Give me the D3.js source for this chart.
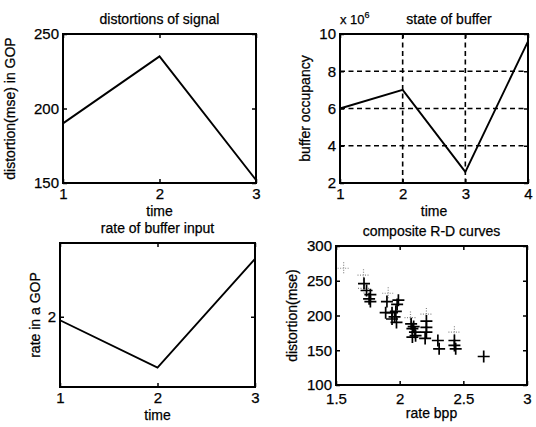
<!DOCTYPE html>
<html>
<head>
<meta charset="utf-8">
<script src="https://cdn.jsdelivr.net/npm/d3@7"></script>
<style>
  body { margin: 0; background: #fff; }
  text { font-family: "Liberation Sans", Arial, sans-serif; fill: #000; stroke: #000; stroke-width: 0.25px; }
</style>
</head>
<body>
<div id="chart"></div>
<script>
// data
const timeA = [1, 2, 3];
const distortion = [190, 235, 152];

const timeB = [1, 2, 3, 4];
const bufferState = [6.0, 7.0, 2.6, 9.6];   // x 10^6

const rateInput = [1.98, 1.71, 2.33];

// composite R-D curves: rate bpp / distortion (mse)
const rdRate = [1.72, 1.74, 1.77, 1.76, 1.77,
    1.90, 1.89, 1.94, 1.96, 1.97, 1.98, 1.99, 1.975, 1.94,
    2.09, 2.10, 2.11, 2.12, 2.10, 2.125, 2.21, 2.21, 2.21, 2.20,
    2.30, 2.31, 2.43, 2.43, 2.44, 2.66];
const rdDist = [246, 236, 230, 224, 220,
    220, 204, 204, 198, 206, 216, 222, 190, 195,
    188, 181, 184, 176, 169, 171, 192, 183, 176, 167,
    164, 152, 164, 157, 152, 141];
// faint (dotted) crosses
const rdRateFaint = [1.56, 1.716, 1.72, 1.91, 2.085, 2.21, 2.43];
const rdDistFaint = [268, 258, 239, 232, 197, 202, 176];

const W = 536, H = 427;
const svg = d3.select("#chart").append("svg")
    .attr("width", W).attr("height", H);
svg.append("rect").attr("width", W).attr("height", H).attr("fill", "#fff");

function panel(cfg) {
    const x = d3.scaleLinear().domain(cfg.xDomain).range([cfg.left, cfg.right]);
    const y = d3.scaleLinear().domain(cfg.yDomain).range([cfg.bottom, cfg.top]);
    const g = svg.append("g");

    if (cfg.grid) {
        g.append("g").selectAll("line.gx")
            .data(cfg.xTicks.slice(1, -1)).enter().append("line")
            .attr("x1", d => x(d)).attr("x2", d => x(d))
            .attr("y1", cfg.top).attr("y2", cfg.bottom)
            .attr("stroke", "#000").attr("stroke-width", 1.6)
            .attr("stroke-dasharray", "5,3.5");
        g.append("g").selectAll("line.gy")
            .data(cfg.yTicks.slice(1, -1)).enter().append("line")
            .attr("y1", d => y(d)).attr("y2", d => y(d))
            .attr("x1", cfg.left).attr("x2", cfg.right)
            .attr("stroke", "#000").attr("stroke-width", 1.6)
            .attr("stroke-dasharray", "5,3.5");
    }

    const fmt = cfg.fmt || (d => d);
    const ax = [
        [d3.axisBottom(x).tickValues(cfg.xTicks).tickFormat(fmt), cfg.bottom, 0, cfg.xPad || 5],
        [d3.axisTop(x).tickValues(cfg.xTicks).tickFormat(""), cfg.top, 0, 0],
        [d3.axisLeft(y).tickValues(cfg.yTicks).tickFormat(fmt), 0, cfg.left, 4],
        [d3.axisRight(y).tickValues(cfg.yTicks).tickFormat(""), 0, cfg.right, 0]
    ];
    ax.forEach(([a, ty, tx, pad]) => {
        const ag = g.append("g")
            .attr("transform", `translate(${tx},${ty})`)
            .call(a.tickSizeInner(-4).tickSizeOuter(0).tickPadding(pad));
        ag.select(".domain").remove();
        ag.selectAll(".tick line").attr("stroke-width", 1.5);
        ag.selectAll(".tick text")
            .style("font-size", "15px")
            .style("font-family", "'Liberation Sans', Arial, sans-serif")
            .attr("fill", "#000");
    });

    g.append("rect")
        .attr("x", cfg.left).attr("y", cfg.top)
        .attr("width", cfg.right - cfg.left).attr("height", cfg.bottom - cfg.top)
        .attr("fill", "none").attr("stroke", "#000").attr("stroke-width", 2);

    // title and labels
    g.append("text").attr("x", (cfg.left + cfg.right) / 2 + (cfg.titleDx || 0))
        .attr("y", cfg.top - 10).attr("text-anchor", "middle")
        .style("font-size", "14px").text(cfg.title);
    g.append("text").attr("x", (cfg.left + cfg.right) / 2).attr("y", cfg.bottom + 33)
        .attr("text-anchor", "middle").style("font-size", "14px").text(cfg.xLabel);
    g.append("text")
        .attr("transform", `translate(${cfg.yLabelX},${(cfg.top + cfg.bottom) / 2}) rotate(-90)`)
        .attr("text-anchor", "middle").style("font-size", "14px").text(cfg.yLabel);

    return { g, x, y };
}

const lineStyle = sel => sel.attr("fill", "none").attr("stroke", "#000").attr("stroke-width", 1.9);

// panel 1
const p1 = panel({
    left: 63, right: 256, top: 34, bottom: 183,
    xDomain: [1, 3], yDomain: [150, 250],
    xTicks: [1, 2, 3], yTicks: [150, 200, 250],
    title: "distortions of signal", xLabel: "time",
    yLabel: "distortion(mse) in GOP", yLabelX: 15
});
p1.g.append("path").datum(timeA.map((t, i) => [t, distortion[i]]))
    .attr("d", d3.line().x(d => p1.x(d[0])).y(d => p1.y(d[1]))).call(lineStyle);

// panel 2
const p2 = panel({
    left: 340, right: 528, top: 34, bottom: 183,
    xDomain: [1, 4], yDomain: [2, 10],
    xTicks: [1, 2, 3, 4], yTicks: [2, 4, 6, 8, 10],
    grid: true, titleDx: 15,
    title: "state of buffer", xLabel: "time",
    yLabel: "buffer occupancy", yLabelX: 310
});
p2.g.append("path").datum(timeB.map((t, i) => [t, bufferState[i]]))
    .attr("d", d3.line().x(d => p2.x(d[0])).y(d => p2.y(d[1]))).call(lineStyle);
const exp = p2.g.append("text").attr("x", 340).attr("y", 24).style("font-size", "13px");
exp.append("tspan").text("x 10");
exp.append("tspan").attr("dy", -6).style("font-size", "9px").text("6");

// panel 3
const p3 = panel({
    left: 60, right: 255, top: 243, bottom: 387,
    xDomain: [1, 3], yDomain: [1.6, 2.42],
    xTicks: [1, 2, 3], yTicks: [2],
    title: "rate of buffer input", xLabel: "time",
    yLabel: "rate in a GOP", yLabelX: 40
});
p3.g.append("path").datum(timeA.map((t, i) => [t, rateInput[i]]))
    .attr("d", d3.line().x(d => p3.x(d[0])).y(d => p3.y(d[1]))).call(lineStyle);

// panel 4
const p4 = panel({
    left: 336, right: 527, top: 246, bottom: 385, xPad: 8,
    xDomain: [1.5, 3], yDomain: [100, 300],
    xTicks: [1.5, 2, 2.5, 3], yTicks: [100, 150, 200, 250, 300],
    fmt: d3.format("~g"),
    title: "composite R-D curves", xLabel: "rate bpp",
    yLabel: "distortion(mse)", yLabelX: 297
});
function crosses(rates, dists, color, width, dash) {
    const s = 6;
    const gg = p4.g.append("g");
    rates.forEach((r, i) => {
        const cx = p4.x(r), cy = p4.y(dists[i]);
        gg.append("path")
            .attr("d", `M${cx - s},${cy}H${cx + s}M${cx},${cy - s}V${cy + s}`)
            .attr("stroke", color).attr("stroke-width", width)
            .attr("stroke-dasharray", dash);
    });
}
crosses(rdRateFaint, rdDistFaint, "#888", 1.2, "1,1.5");
crosses(rdRate, rdDist, "#000", 1.7, null);
</script>
</body>
</html>
